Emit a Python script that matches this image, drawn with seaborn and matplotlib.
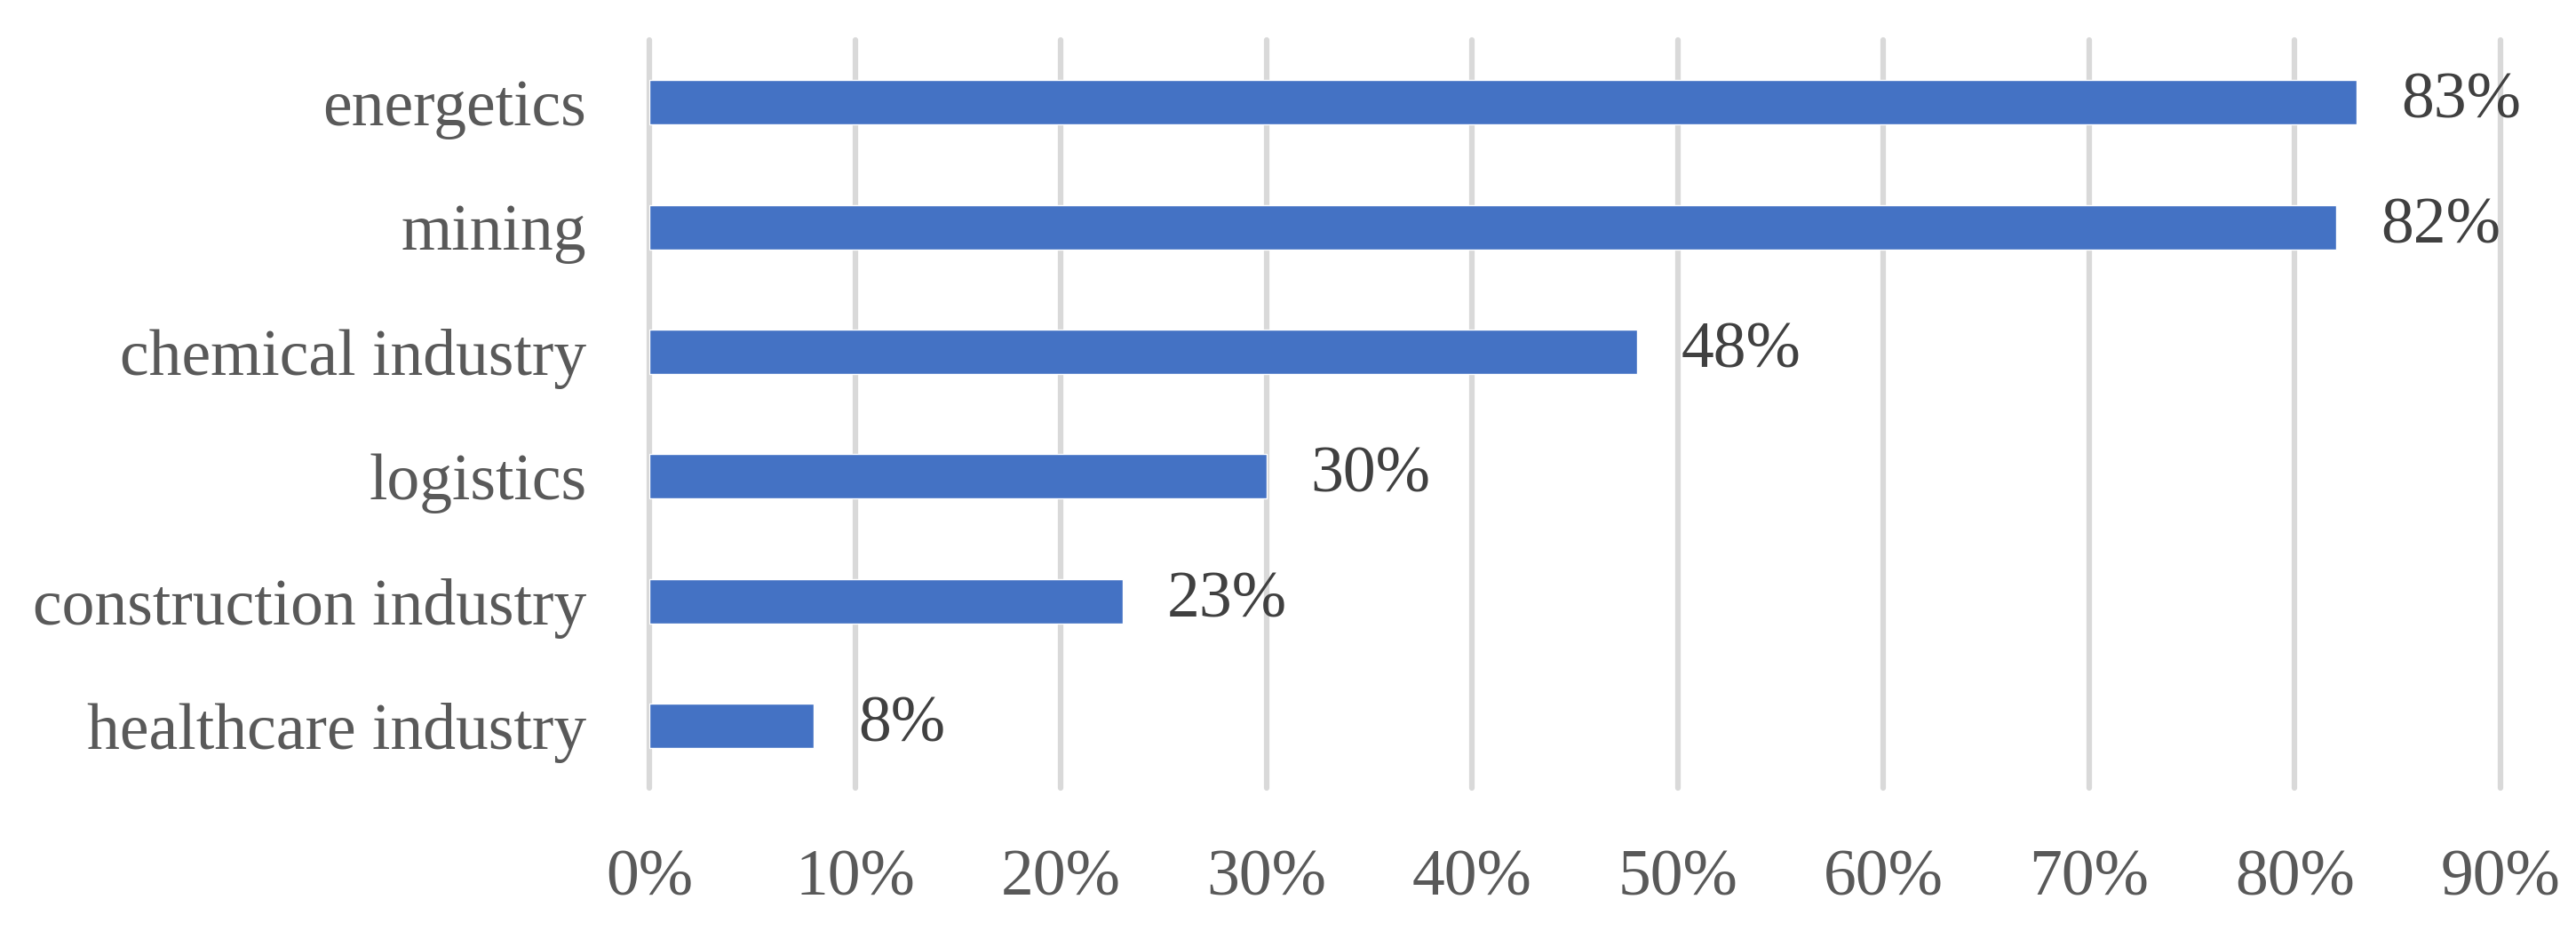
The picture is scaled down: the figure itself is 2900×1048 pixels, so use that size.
"""
Horizontal bar chart: share of companies per industry.
"""

import matplotlib.pyplot as plt
import pandas as pd
import seaborn as sns
from matplotlib.ticker import FuncFormatter, MultipleLocator

# Data
industries = [
    "energetics",
    "mining",
    "chemical industry",
    "logistics",
    "construction industry",
    "healthcare industry",
]
shares = [0.83, 0.82, 0.48, 0.30, 0.23, 0.08]

BAR_COLOR = "#4472C4"
GRID_COLOR = "#D9D9D9"
TICK_COLOR = "#595959"
LABEL_COLOR = "#404040"
FONT_SIZE = 53

sns.set_theme(style="white")
plt.rcParams["font.family"] = ["Liberation Serif", "DejaVu Serif"]

df = pd.DataFrame({"industry": industries, "share": shares})

fig = plt.figure(figsize=(29, 10.48), dpi=100)
ax = fig.add_axes([0.2521, 0.1536, 0.7186, 0.8034])

sns.barplot(
    data=df,
    x="share",
    y="industry",
    orient="h",
    color=BAR_COLOR,
    saturation=1,
    width=0.356,
    ax=ax,
)

# Axis range and grid
ax.set_xlim(0, 0.9)
ax.set_ylim(len(industries) - 0.5, -0.5)
ax.xaxis.set_major_locator(MultipleLocator(0.1))
ax.xaxis.set_major_formatter(FuncFormatter(lambda v, _: f"{v * 100:.0f}%"))
ax.grid(axis="x", color=GRID_COLOR, linewidth=4.5)
ax.grid(axis="y", visible=False)
ax.set_axisbelow(True)
for line in ax.get_xgridlines():
    line.set_clip_on(False)
for spine in ax.spines.values():
    spine.set_visible(False)

ax.set_xlabel("")
ax.set_ylabel("")
ax.tick_params(axis="x", length=0, pad=50, labelsize=FONT_SIZE, labelcolor=TICK_COLOR)
ax.tick_params(axis="y", length=0, pad=51, labelsize=FONT_SIZE, labelcolor=TICK_COLOR)

# Data labels
ax.bar_label(
    ax.containers[0],
    labels=[f"{v * 100:.0f}%" for v in shares],
    padding=36,
    fontsize=FONT_SIZE,
    color=LABEL_COLOR,
)

fig.savefig("out.png", dpi=100)
